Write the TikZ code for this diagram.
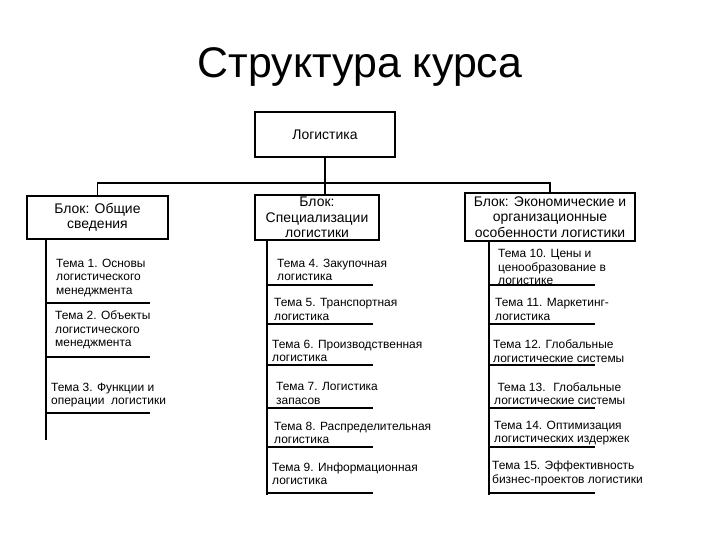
\documentclass[tikz,border=0pt]{standalone}
\usepackage{fontspec}
\setmainfont{Liberation Sans}
\tikzset{
    blockbox/.style={draw, line width=1.2bp, align=center, inner sep=1bp,
        font=\fontsize{14}{15.5}\selectfont},
    topic/.style={anchor=west, align=left, inner sep=0pt,
        font=\fontsize{12}{13.5}\selectfont},
    rule/.style={line width=1.2bp}
}
\begin{document}
\begin{tikzpicture}[x=1bp, y=-1bp]
    \useasboundingbox (0,0) rectangle (720,540);
    \node (title) at (360,67) {\fontsize{43}{50}\selectfont Структура курса};
    \node[blockbox, minimum width=140bp, minimum height=45bp] (logist) at (325,134.5) {Логистика};
    \node[blockbox, minimum width=141bp, minimum height=43bp] (gen) at (97.5,217.5) {Блок: Общие\\сведения};
    \node[blockbox, minimum width=124bp, minimum height=45bp] (spec) at (317,217.5) {Блок:\\Специализации\\логистики};
    \node[blockbox, minimum width=170bp, minimum height=48bp] (econ) at (550,217) {Блок: Экономические и\\организационные\\особенности логистики};
    \coordinate (bus) at (325,183);
    \draw[rule] (gen.north) |- (bus) -| (econ.north);
    \draw[rule] (logist.south) -- (logist.south |- spec.north);

    % left column
    \coordinate (genend) at (46,440);
    \draw[rule] (gen.south -| genend) -- (genend);
    \foreach \y in {303,357,413}
        \draw[rule] (46,\y) -- (150,\y);
    \node[topic] (t1) at (56,278) {Тема 1. Основы\\логистического\\менеджмента};
    \node[topic] (t2) at (55,330) {Тема 2. Объекты\\логистического\\менеджмента};
    \node[topic] (t3) at (51,395) {Тема 3. Функции и\\операции~~логистики};

    % middle column
    \coordinate (specend) at (267,495);
    \draw[rule] (spec.south -| specend) -- (specend);
    \foreach \y in {285,324,365,408,447,493}
        \draw[rule] (267,\y) -- (373,\y);
    \node[topic] (t4) at (277,270) {Тема 4. Закупочная\\логистика};
    \node[topic] (t5) at (274,309.5) {Тема 5. Транспортная\\логистика};
    \node[topic] (t6) at (272,351) {Тема 6. Производственная\\логистика};
    \node[topic] (t7) at (276,393.5) {Тема 7. Логистика\\запасов};
    \node[topic] (t8) at (274,433) {Тема 8. Распределительная\\логистика};
    \node[topic] (t9) at (272,473.5) {Тема 9. Информационная\\логистика};

    % right column
    \coordinate (econend) at (489,495);
    \draw[rule] (econ.south -| econend) -- (econend);
    \foreach \y in {285,324,365,408,447,493}
        \draw[rule] (489,\y) -- (595,\y);
    \node[topic] (t10) at (498,267) {Тема 10. Цены и\\ценообразование в\\логистике};
    \node[topic] (t11) at (495,309.5) {Тема 11. Маркетинг-\\логистика};
    \node[topic] (t12) at (493,351) {Тема 12. Глобальные\\логистические системы};
    \node[topic] (t13) at (494,393.5) {~Тема 13.~ Глобальные\\логистические системы};
    \node[topic] (t14) at (494,433) {Тема 14. Оптимизация\\логистических издержек};
    \node[topic] (t15) at (492,473.5) {Тема 15. Эффективность\\бизнес-проектов логистики};
\end{tikzpicture}
\end{document}
